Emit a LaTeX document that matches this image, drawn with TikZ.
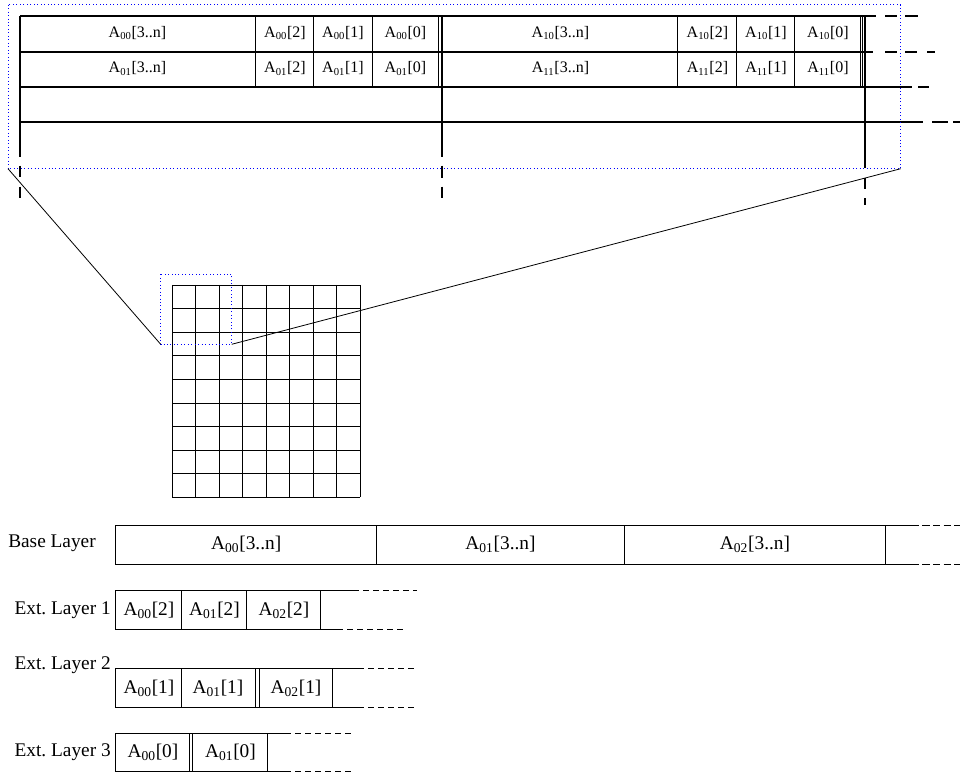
\documentclass[tikz,border=0pt]{standalone}
\usepackage{fontspec}
\setmainfont{Liberation Serif}
\newcommand{\Asub}[2]{A\textsubscript{#1}[#2]}
\frenchspacing
\begin{document}
\begin{tikzpicture}[x=0.75pt,y=-0.75pt,
  thk/.style={line width=1.6pt},
  thn/.style={line width=0.6pt},
  cellt/.style={font=\fontsize{12}{14}\selectfont, inner sep=0pt},
  cellb/.style={font=\fontsize{14.5}{17}\selectfont, inner sep=0pt},
  lbl/.style={font=\fontsize{14.5}{17}\selectfont, inner sep=0pt},
  zoombox/.style={draw=blue, dotted, line width=0.6pt},
  zoomline/.style={line width=0.6pt},
  lyr/.style={line width=0.7pt},
  ldash/.style={line width=0.7pt, dash pattern=on 4.5pt off 3pt},
  bdash/.style={line width=0.7pt, dash pattern=on 5.5pt off 2.5pt}]
\useasboundingbox (0,0) rectangle (960,773);

% ---------- top table ----------
\draw[thk] (20,16) -- (865,16);
\draw[thk] (20,51.7) -- (865,51.7);
\draw[thk] (20,86.7) -- (865,86.7);
\draw[thk] (20,121.7) -- (865,121.7);
\draw[thk, dash pattern=on 8.25pt off 6.75pt on 9pt off 6pt on 9.75pt off 50pt] (865,16) -- (918,16);
\draw[thk, dash pattern=on 6pt off 9pt on 9pt off 6pt on 9pt off 7.5pt on 6pt off 50pt] (865,51.7) -- (935,51.7);
\draw[thk, dash pattern=on 35.25pt off 4.5pt on 8.25pt off 50pt] (865,86.7) -- (929,86.7);
\draw[thk, dash pattern=on 43.5pt off 6.75pt on 12pt off 3.75pt on 5.25pt off 50pt] (865,121.7) -- (960,121.7);

\draw[line width=2.2pt, dash pattern=on 105.5pt off 6.75pt on 8.7pt off 7pt on 8.25pt off 50pt] (20,16) -- (20,197.7);
\draw[line width=2.2pt, dash pattern=on 105.5pt off 6.75pt on 9pt off 6.75pt on 8.5pt off 50pt] (442,16) -- (442,198);
\draw[line width=2.2pt, dash pattern=on 114.2pt off 7pt on 8.7pt off 6.75pt on 5pt off 50pt] (865,16) -- (865,205);

\foreach \x in {255,313.3,372,438.3,677.3,736,794.7,860.7,862.7}
  \draw[thn] (\x,16) -- (\x,86.7);

\node[cellt] (a00n) at (137.5,33) {\Asub{00}{3..n}};
\node[cellt] (a002) at (285,33) {\Asub{00}{2}};
\node[cellt] (a001) at (343,33) {\Asub{00}{1}};
\node[cellt] (a000) at (405.5,33) {\Asub{00}{0}};
\node[cellt] (a01n) at (137.5,68.5) {\Asub{01}{3..n}};
\node[cellt] (a012) at (285,68.5) {\Asub{01}{2}};
\node[cellt] (a011) at (343,68.5) {\Asub{01}{1}};
\node[cellt] (a010) at (405.5,68.5) {\Asub{01}{0}};
\node[cellt] (a10n) at (560.5,33) {\Asub{10}{3..n}};
\node[cellt] (a102) at (707.5,33) {\Asub{10}{2}};
\node[cellt] (a101) at (766,33) {\Asub{10}{1}};
\node[cellt] (a100) at (828,33) {\Asub{10}{0}};
\node[cellt] (a11n) at (560.5,68.5) {\Asub{11}{3..n}};
\node[cellt] (a112) at (707.5,68.5) {\Asub{11}{2}};
\node[cellt] (a111) at (766,68.5) {\Asub{11}{1}};
\node[cellt] (a110) at (828,68.5) {\Asub{11}{0}};

\coordinate (bigNW) at (8,4.7);
\coordinate (bigSE) at (900.7,168.7);
\coordinate (bigSW) at (8,168.7);
\draw[zoombox] (bigNW) rectangle (bigSE);

% ---------- grid ----------
\foreach \i in {0,...,8}
  \draw[thn] (172.3+\i*23.46,285) -- (172.3+\i*23.46,497.3);
\foreach \j in {0,...,9}
  \draw[thn] (172.3,285+\j*23.59) -- (360,285+\j*23.59);

\coordinate (smNW) at (160.7,274.3);
\coordinate (smSE) at (231.7,344.3);
\coordinate (smSW) at (160.7,344.3);
\draw[zoombox] (smNW) rectangle (smSE);

\draw[zoomline] (bigSW) -- (smSW);
\draw[zoomline] (bigSE) -- (smSE);

% ---------- layers ----------
\node[lbl, anchor=west] (lbase) at (8,543.3) {Base Layer};
\draw[lyr] (115.7,525) rectangle (885.7,564);
\draw[lyr] (376.7,525) -- (376.7,564);
\draw[lyr] (624.3,525) -- (624.3,564);
\draw[lyr] (885.7,525) -- (911.7,525);
\draw[lyr] (885.7,564) -- (911.7,564);
\draw[bdash] (911.7,525) -- (960,525);
\draw[bdash] (911.7,564) -- (960,564);
\node[cellb] (b0) at (246.2,544.5) {\Asub{00}{3..n}};
\node[cellb] (b1) at (500.5,544.5) {\Asub{01}{3..n}};
\node[cellb] (b2) at (755,544.5) {\Asub{02}{3..n}};

\node[lbl, anchor=east] (l1) at (111,610) {Ext. Layer 1};
\draw[lyr] (115.7,590) rectangle (320,629.3);
\draw[lyr] (181,590) -- (181,629.3);
\draw[lyr] (246.7,590) -- (246.7,629.3);
\draw[lyr] (320,590) -- (353,590);
\draw[lyr] (320,629.3) -- (337,629.3);
\draw[ldash] (353,590) -- (416.7,590);
\draw[ldash] (337,629.3) -- (403.3,629.3);
\node[cellb] (e12a) at (149,610) {\Asub{00}{2}};
\node[cellb] (e12b) at (214.5,610) {\Asub{01}{2}};
\node[cellb] (e12c) at (284,610) {\Asub{02}{2}};

\node[lbl, anchor=east] (l2) at (111,665) {Ext. Layer 2};
\draw[lyr] (115.7,668.3) rectangle (332.7,707.7);
\draw[lyr] (181,668.3) -- (181,707.7);
\draw[lyr] (255,668.3) -- (255,707.7);
\draw[lyr] (259,668.3) -- (259,707.7);
\draw[lyr] (332.7,668.3) -- (358,668.3);
\draw[lyr] (332.7,707.7) -- (358,707.7);
\draw[ldash] (358,668.3) -- (416.7,668.3);
\draw[ldash] (358,707.7) -- (416.7,707.7);
\node[cellb] (e21a) at (149,688) {\Asub{00}{1}};
\node[cellb] (e21b) at (218,688) {\Asub{01}{1}};
\node[cellb] (e21c) at (296,688) {\Asub{02}{1}};

\node[lbl, anchor=east] (l3) at (111,751.7) {Ext. Layer 3};
\draw[lyr] (115.7,733.3) rectangle (267.7,771.7);
\draw[lyr] (189.3,733.3) -- (189.3,771.7);
\draw[lyr] (192.7,733.3) -- (192.7,771.7);
\draw[lyr] (267.7,733.3) -- (285,733.3);
\draw[lyr] (267.7,771.7) -- (285,771.7);
\draw[ldash] (285,733.3) -- (351.7,733.3);
\draw[ldash] (285,771.7) -- (351.7,771.7);
\node[cellb] (e30a) at (153,752.5) {\Asub{00}{0}};
\node[cellb] (e30b) at (230.5,752.5) {\Asub{01}{0}};
\end{tikzpicture}
\end{document}
